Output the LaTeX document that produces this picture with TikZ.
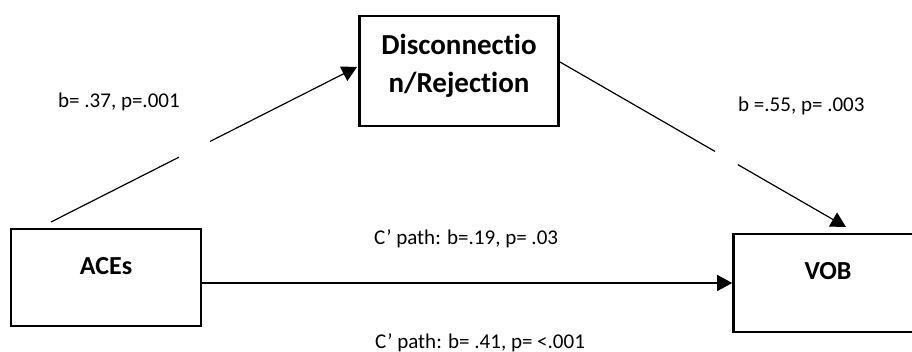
\documentclass[tikz,border=0pt]{standalone}
\usepackage{fontspec}
\setmainfont{Carlito}[RawFeature={-liga;-dlig;-hlig;-calt;-clig}]
\usetikzlibrary{arrows.meta,calc}
\begin{document}
\begin{tikzpicture}[x=1pt,y=-1pt,
  varbox/.style={draw, line width=2.6pt, inner sep=0pt},
  boxtext/.style={font=\bfseries\fontsize{26}{30}\selectfont, anchor=base, inner sep=0pt},
  bigtext/.style={font=\bfseries\fontsize{29}{34}\selectfont, anchor=base, inner sep=0pt},
  link/.style={line width=1.2pt},
  tipped/.style={link, -{Triangle[length=15pt,width=16pt]}},
  coef/.style={font=\fontsize{21}{25}\selectfont, anchor=base west, inner sep=0pt}]
\clip (0,0) rectangle (912,352);

% variable boxes
\node[varbox, minimum width=190pt, minimum height=97pt] (aces) at (106,277.5) {};
\node[varbox, minimum width=199pt, minimum height=110pt] (dis) at (459,71) {};
\node[varbox, minimum width=196pt, minimum height=98pt] (vob) at (831.5,283) {};

% box labels
\node[boxtext] (acestxt) at (106,275) {ACEs};
\node[bigtext] (distxt1) at (459,55) {Disconnec\kern0pt tio};
\node[bigtext] (distxt2) at (459,93) {n/Rejec\kern0pt tion};
\node[boxtext] (vobtxt) at (828,280) {VOB};

% path ends
\coordinate (aStart) at (51,222);
\coordinate (aEnd) at (357,67);
\coordinate (bStart) at (560,62);
\coordinate (bEnd) at (846,227);

% a path, interrupted under its label area
\draw[link] (aStart) -- ($(aStart)!0.418!(aEnd)$);
\draw[tipped] ($(aStart)!0.520!(aEnd)$) -- (aEnd);

% b path, interrupted likewise
\draw[link] (bStart) -- ($(bStart)!0.542!(bEnd)$);
\draw[tipped] ($(bStart)!0.622!(bEnd)$) -- (bEnd);

% direct path
\draw[tipped] (aces.east |- vob.west) -- (vob.west);

% coefficients
\node[coef] (lblA) at (58,108) {b= .37, p=.001};
\node[coef] (lblB) at (738,112) {b =.55, p= .003};
\node[coef] (lblC) at (374,245) {C’ path: b=.19, p= .03};
\node[coef] (lblT) at (375,348) {C’ path: b= .41, p= <.001};
\end{tikzpicture}
\end{document}
